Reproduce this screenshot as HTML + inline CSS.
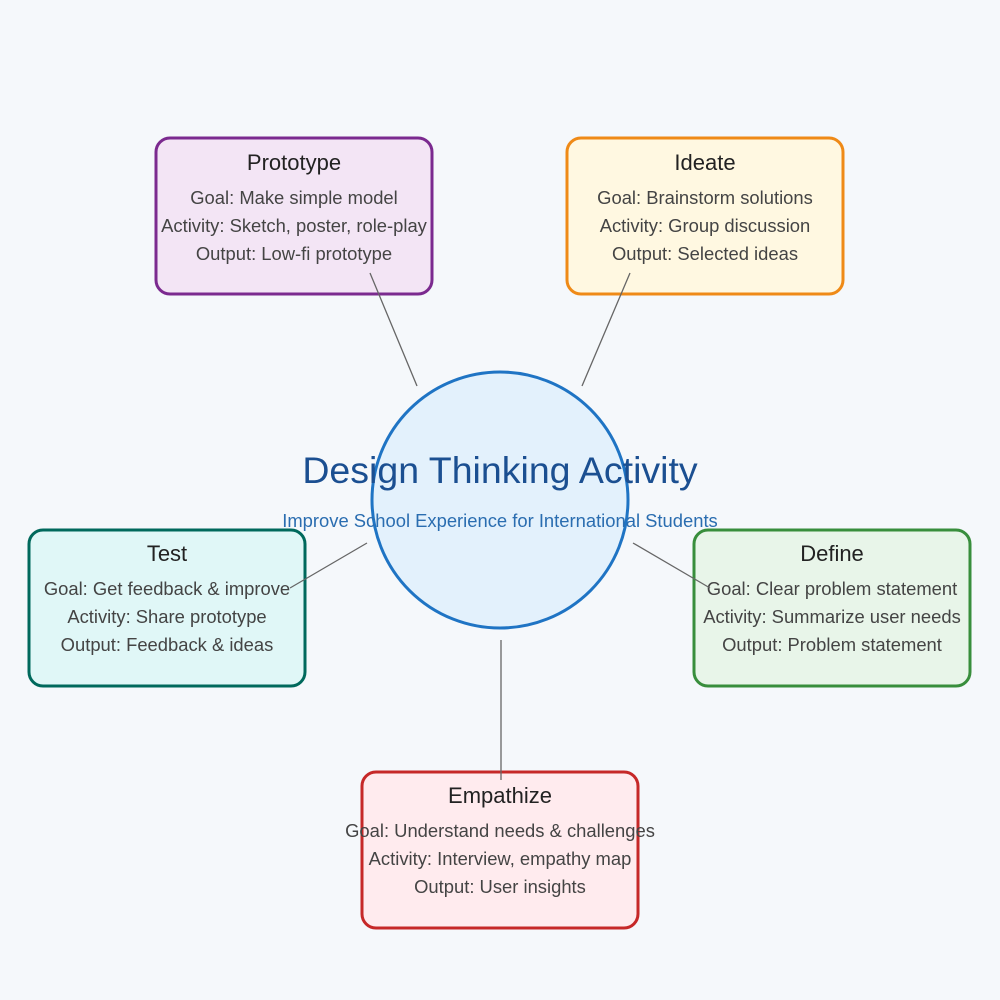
<!DOCTYPE html>
<html><head><meta charset="utf-8"><style>
html,body{margin:0;padding:0;background:#f5f8fb;}
svg{display:block;font-family:"Liberation Sans",sans-serif;}
.t{font-size:22px;fill:#222;text-anchor:middle;}
.l{font-size:18.4px;fill:#444;text-anchor:middle;}
</style></head><body>
<svg width="1000" height="1000" viewBox="0 0 1000 1000">
<rect width="1000" height="1000" fill="#f5f8fb"/>
<circle cx="500" cy="500" r="128" fill="#e3f1fc" stroke="#1f74c4" stroke-width="3"/>
<text x="500" y="483" text-anchor="middle" font-size="37.5" fill="#1b4f91">Design Thinking Activity</text>
<text x="500" y="527" text-anchor="middle" font-size="18.4" fill="#2a6db0">Improve School Experience for International Students</text>

<rect x="156" y="138" width="276" height="156" rx="14" fill="#f3e5f5" stroke="#7b2a8f" stroke-width="3"/>
<text class="t" x="294" y="170">Prototype</text>
<text class="l" x="294" y="204">Goal: Make simple model</text>
<text class="l" x="294" y="232">Activity: Sketch, poster, role-play</text>
<text class="l" x="294" y="260">Output: Low-fi prototype</text>

<rect x="567" y="138" width="276" height="156" rx="14" fill="#fff8e1" stroke="#ef8a17" stroke-width="3"/>
<text class="t" x="705" y="170">Ideate</text>
<text class="l" x="705" y="204">Goal: Brainstorm solutions</text>
<text class="l" x="705" y="232">Activity: Group discussion</text>
<text class="l" x="705" y="260">Output: Selected ideas</text>

<rect x="29" y="530" width="276" height="156" rx="14" fill="#e0f7f7" stroke="#00695c" stroke-width="3"/>
<text class="t" x="167" y="561">Test</text>
<text class="l" x="167" y="595">Goal: Get feedback &amp; improve</text>
<text class="l" x="167" y="623">Activity: Share prototype</text>
<text class="l" x="167" y="651">Output: Feedback &amp; ideas</text>

<rect x="694" y="530" width="276" height="156" rx="14" fill="#e8f5e9" stroke="#388e3c" stroke-width="3"/>
<text class="t" x="832" y="561">Define</text>
<text class="l" x="832" y="595">Goal: Clear problem statement</text>
<text class="l" x="832" y="623">Activity: Summarize user needs</text>
<text class="l" x="832" y="651">Output: Problem statement</text>

<rect x="362" y="772" width="276" height="156" rx="14" fill="#ffebee" stroke="#c62828" stroke-width="3"/>
<text class="t" x="500" y="803">Empathize</text>
<text class="l" x="500" y="837">Goal: Understand needs &amp; challenges</text>
<text class="l" x="500" y="865">Activity: Interview, empathy map</text>
<text class="l" x="500" y="893">Output: User insights</text>

<g stroke="#666" stroke-width="1.3">
<line x1="370" y1="273" x2="417" y2="386"/>
<line x1="630" y1="273" x2="582" y2="386"/>
<line x1="290" y1="588" x2="367" y2="543"/>
<line x1="710" y1="588" x2="633" y2="543"/>
<line x1="501" y1="640" x2="501" y2="780"/>
</g>
</svg>
</body></html>
